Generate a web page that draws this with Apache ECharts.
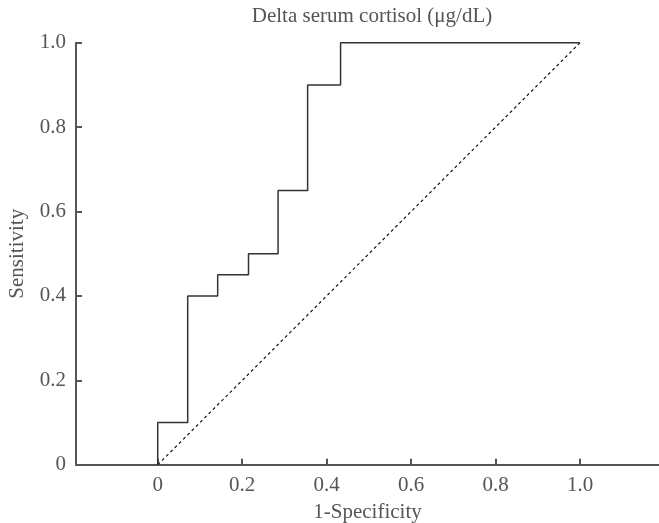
<!DOCTYPE html>
<html>
<head>
<meta charset="utf-8">
<script src="https://cdn.jsdelivr.net/npm/echarts@6/dist/echarts.min.js"></script>
<style>html,body{margin:0;padding:0;background:#fff}#c{width:659px;height:523px}</style>
</head>
<body>
<div id="c"></div>
<script>
// ROC step curve corners (1-Specificity, Sensitivity)
const fpr = [0, 0, 0.071, 0.071, 0.142, 0.142, 0.215, 0.215, 0.285, 0.285, 0.355, 0.355, 0.433, 0.433, 1.0];
const tpr = [0, 0.1, 0.1, 0.4, 0.4, 0.45, 0.45, 0.5, 0.5, 0.65, 0.65, 0.9, 0.9, 1.0, 1.0];
// reference diagonal
const refX = [0, 1];
const refY = [0, 1];
const xTicks = [0, 0.2, 0.4, 0.6, 0.8, 1.0];
const yTicks = [0, 0.2, 0.4, 0.6, 0.8, 1.0];
const titleText = 'Delta serum cortisol (μg/dL)';
const xName = '1-Specificity';
const yName = 'Sensitivity';

const font = '"Liberation Serif", "Times New Roman", serif';
const grey = '#555';
const fmt = v => (Math.abs(v) < 1e-9 ? '0' : v.toFixed(1));

const chart = echarts.init(document.getElementById('c'), null, {renderer: 'canvas'});
chart.setOption({
  animation: false,
  backgroundColor: '#fff',
  title: {
    text: titleText, left: 367, top: 1, textAlign: 'center',
    textStyle: {fontFamily: font, fontSize: 21, fontWeight: 'normal', color: grey}
  },
  grid: {left: 76, right: 0, top: 42.7, bottom: 58.2, containLabel: false, outerBoundsMode: 'none'},
  xAxis: {
    type: 'value', min: -0.1935, max: 1.187,
    name: xName, nameLocation: 'middle', nameGap: 37,
    nameTextStyle: {fontFamily: font, fontSize: 21, color: grey},
    axisLine: {show: true, onZero: false, lineStyle: {color: grey, width: 2}},
    axisTick: {show: true, inside: true, length: 6, customValues: xTicks, lineStyle: {color: grey, width: 2}},
    axisLabel: {customValues: xTicks, formatter: fmt, fontFamily: font, fontSize: 21, color: grey, margin: 10},
    splitLine: {show: false}
  },
  yAxis: {
    type: 'value', min: 0, max: 1, interval: 0.2,
    name: yName, nameLocation: 'middle', nameGap: 48,
    nameTextStyle: {fontFamily: font, fontSize: 21, color: grey},
    axisLine: {show: true, onZero: false, lineStyle: {color: grey, width: 2}},
    axisTick: {show: true, inside: true, length: 6, customValues: yTicks, lineStyle: {color: grey, width: 2}},
    axisLabel: {customValues: yTicks, formatter: fmt, fontFamily: font, fontSize: 21, color: grey, margin: 10},
    splitLine: {show: false}
  },
  series: [
    {
      type: 'line', data: fpr.map((x, i) => [x, tpr[i]]),
      symbol: 'none', lineStyle: {color: '#333', width: 1.5}, z: 3
    },
    {
      type: 'line', data: refX.map((x, i) => [x, refY[i]]),
      symbol: 'none', lineStyle: {color: '#111', width: 1.2, type: [3, 3]}, z: 2
    }
  ]
});
</script>
</body>
</html>
